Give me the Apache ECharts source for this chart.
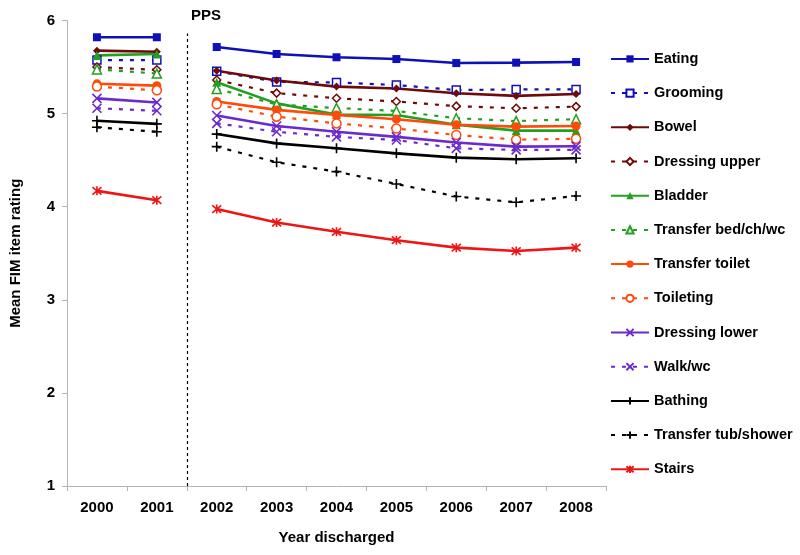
<!DOCTYPE html>
<html>
<head>
<meta charset="utf-8">
<script src="https://cdn.jsdelivr.net/npm/echarts@6/dist/echarts.min.js"></script>
<style>html,body{margin:0;padding:0;background:#fff}#c{width:800px;height:555px}</style>
</head>
<body>
<div id="c"></div>
<script>
var categories = ['2000','2001','2002','2003','2004','2005','2006','2007','2008'];
var yTicks = [1, 2, 3, 4, 5, 6];

var eating         = [5.82, 5.82, 5.715, 5.64, 5.605, 5.586, 5.543, 5.547, 5.554];
var grooming       = [5.575, 5.575, 5.455, 5.34, 5.335, 5.307, 5.253, 5.26, 5.26];
var bowel          = [5.676, 5.665, 5.46, 5.355, 5.29, 5.27, 5.218, 5.19, 5.21];
var dressingUpper  = [5.50, 5.47, 5.36, 5.22, 5.165, 5.13, 5.08, 5.057, 5.075];
var bladder        = [5.625, 5.64, 5.336, 5.11, 4.99, 4.985, 4.88, 4.817, 4.817];
var transferBed    = [5.475, 5.43, 5.265, 5.10, 5.06, 5.028, 4.95, 4.92, 4.94];
var transferToilet = [5.32, 5.30, 5.13, 5.04, 4.985, 4.94, 4.88, 4.86, 4.867];
var toileting      = [5.29, 5.25, 5.10, 4.967, 4.895, 4.84, 4.77, 4.72, 4.73];
var dressingLower  = [5.164, 5.12, 4.98, 4.867, 4.805, 4.75, 4.69, 4.645, 4.65];
var walkWc         = [5.057, 5.03, 4.895, 4.805, 4.75, 4.716, 4.627, 4.61, 4.61];
var bathing        = [4.924, 4.89, 4.78, 4.68, 4.627, 4.573, 4.527, 4.51, 4.52];
var transferTub    = [4.853, 4.805, 4.645, 4.477, 4.377, 4.244, 4.11, 4.047, 4.115];
var stairs         = [4.17, 4.07, 3.975, 3.83, 3.73, 3.64, 3.56, 3.524, 3.56];

var seriesNames = ['Eating','Grooming','Bowel','Dressing upper','Bladder','Transfer bed/ch/wc',
  'Transfer toilet','Toileting','Dressing lower','Walk/wc','Bathing','Transfer tub/shower','Stairs'];
var seriesValues = [eating, grooming, bowel, dressingUpper, bladder, transferBed,
  transferToilet, toileting, dressingLower, walkWc, bathing, transferTub, stairs];
var ppsBreak = 1.5;   // PPS introduced between 2001 and 2002
var ppsLineTop = 5.86;

var X_PATH = 'path://M0,0L10,10M10,0L0,10';
var PLUS_PATH = 'path://M5,0L5,10M0,5L10,5';
var STAR_PATH = 'path://M0,0L10,10M10,0L0,10M5,-1L5,11';

var styles = [
  {color:'#1010B8', dashed:false, symbol:'rect', size:8, open:false},
  {color:'#1010B8', dashed:true,  symbol:'rect', size:8, open:true},
  {color:'#6E0A0A', dashed:false, symbol:'diamond', size:8, open:false},
  {color:'#6E0A0A', dashed:true,  symbol:'diamond', size:8, open:true},
  {color:'#22A022', dashed:false, symbol:'triangle', size:9, open:false},
  {color:'#22A022', dashed:true,  symbol:'triangle', size:9, open:true},
  {color:'#FF4A0A', dashed:false, symbol:'circle', size:9, open:false},
  {color:'#FF4A0A', dashed:true,  symbol:'circle', size:9, open:true},
  {color:'#6A2ACC', dashed:false, symbol:X_PATH, size:9, stroke:true},
  {color:'#6A2ACC', dashed:true,  symbol:X_PATH, size:9, stroke:true},
  {color:'#000000', dashed:false, symbol:PLUS_PATH, size:10, stroke:true},
  {color:'#000000', dashed:true,  symbol:PLUS_PATH, size:10, stroke:true},
  {color:'#EE1515', dashed:false, symbol:STAR_PATH, size:9, stroke:true}
];

var FONT = '"Liberation Sans", Arial, sans-serif';

function makeSeries(name, st, data) {
  var itemStyle;
  if (st.stroke) itemStyle = {color: st.color, borderColor: st.color, borderWidth: 1.6};
  else if (st.open) itemStyle = {color: '#ffffff', borderColor: st.color, borderWidth: 1.5};
  else itemStyle = {color: st.color, borderColor: st.color, borderWidth: 0};
  return {
    name: name,
    type: 'line',
    data: data,
    connectNulls: false,
    symbol: st.symbol,
    symbolSize: st.size,
    showAllSymbol: true,
    animation: false,
    lineStyle: {color: st.color, width: st.dashed ? 2.2 : 2.6, type: st.dashed ? [4, 7] : 'solid'},
    itemStyle: itemStyle,
    emphasis: {disabled: true}
  };
}

var series = [];
seriesNames.forEach(function (name, i) {
  var vals = seriesValues[i];
  var pre = vals.map(function (v, j) { return j < 2 ? v : null; });
  var post = vals.map(function (v, j) { return j >= 2 ? v : null; });
  series.push(makeSeries(name, styles[i], pre));
  series.push(makeSeries(name, styles[i], post));
});

series.push({
  type: 'line',
  xAxisIndex: 1,
  data: [],
  silent: true,
  animation: false,
  markLine: {
    symbol: ['none', 'none'],
    silent: true,
    animation: false,
    label: {show: false},
    lineStyle: {color: '#000', width: 1.2, type: [3, 3]},
    data: [[{coord: [ppsBreak, yTicks[0]]}, {coord: [ppsBreak, ppsLineTop]}]]
  }
});

var chart = echarts.init(document.getElementById('c'), null, {renderer: 'canvas'});
chart.setOption({
  backgroundColor: '#ffffff',
  animation: false,
  textStyle: {fontFamily: FONT},
  title: {
    text: 'PPS', left: 186, top: 3,
    textStyle: {fontFamily: FONT, fontSize: 15, fontWeight: 'bold', color: '#000'}
  },
  grid: {left: 66.7, right: 194, top: 20.5, bottom: 69, containLabel: false},
  legend: {
    orient: 'vertical',
    left: 605, top: 46.4,
    padding: 5,
    itemWidth: 38, itemHeight: 9, itemGap: 19.2,
    data: seriesNames,
    selectedMode: false,
    textStyle: {fontFamily: FONT, fontSize: 14.5, fontWeight: 'bold', color: '#000'}
  },
  xAxis: [{
    type: 'category',
    data: categories,
    boundaryGap: true,
    name: 'Year discharged',
    nameLocation: 'middle',
    nameGap: 44,
    nameTextStyle: {fontFamily: FONT, fontSize: 15, fontWeight: 'bold', color: '#000'},
    axisLine: {onZero: false, lineStyle: {color: '#B4B4B4', width: 1}},
    axisTick: {show: true, inside: false, length: 5, alignWithLabel: false, lineStyle: {color: '#B4B4B4'}},
    axisLabel: {fontFamily: FONT, fontSize: 15, fontWeight: 'bold', color: '#000', margin: 14},
    splitLine: {show: false}
  }, {
    type: 'value',
    min: -0.5, max: 8.5,
    show: false
  }],
  yAxis: {
    type: 'value',
    min: yTicks[0], max: yTicks[yTicks.length - 1], interval: 1,
    name: 'Mean FIM item rating',
    nameLocation: 'middle',
    nameGap: 44,
    nameRotate: 90,
    nameTextStyle: {fontFamily: FONT, fontSize: 15, fontWeight: 'bold', color: '#000'},
    axisLine: {show: true, onZero: false, lineStyle: {color: '#B4B4B4', width: 1}},
    axisTick: {show: true, inside: false, length: 5, lineStyle: {color: '#B4B4B4'}},
    axisLabel: {fontFamily: FONT, fontSize: 15, fontWeight: 'bold', color: '#000', margin: 12},
    splitLine: {show: false}
  },
  series: series
});
</script>
</body>
</html>
